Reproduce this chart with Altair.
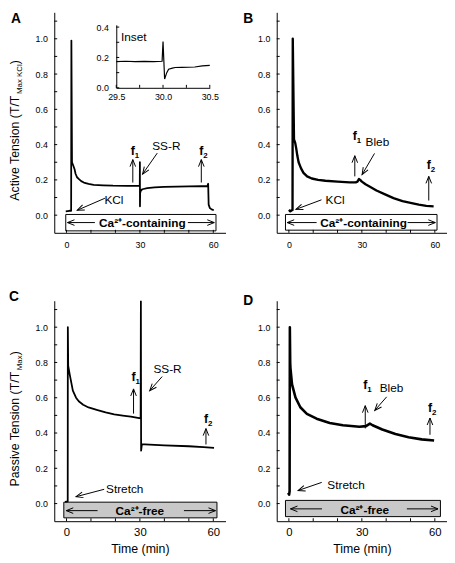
import math
import altair as alt
import pandas as pd

FONT = "Liberation Sans"

# ---------------- traces (time in min, normalised tension) ----------------
A_T = [-0.3, 1.2, 1.9, 2.0, 2.25, 2.8, 3.3, 3.7, 4.3, 5.1, 6.0, 7.1, 9.0, 11.1, 15.0, 19.0, 25.0, 29.95, 30.0, 30.03,
       30.1, 30.4, 31.0, 33.0, 36.0, 40.0, 45.0, 50.0, 55.0, 57.6, 57.9, 58.1, 58.6, 59.3, 60.2]
A_V = [0.022, 0.025, 0.025, 0.99, 0.30, 0.28, 0.26, 0.235, 0.215, 0.204, 0.193, 0.185, 0.177, 0.172, 0.169, 0.167, 0.166, 0.167, 0.30, 0.05,
       0.125, 0.14, 0.147, 0.153, 0.157, 0.16, 0.162, 0.163, 0.164, 0.165, 0.178, 0.06, 0.04, 0.033, 0.028]

B_T = [0.0, 0.6, 1.2, 1.5, 1.6, 2.1, 2.6, 3.0, 3.5, 4.0, 5.0, 6.0, 7.5, 9.4, 12.0, 15.0, 20.0, 25.0, 27.5, 28.2,
       28.8, 29.3, 30.0, 31.5, 33.5, 36.0, 40.0, 43.0, 46.7, 50.0, 53.4, 56.5, 59.5]
B_V = [0.03, 0.022, 0.028, 0.03, 1.0, 0.43, 0.41, 0.38, 0.335, 0.30, 0.265, 0.24, 0.22, 0.208, 0.20, 0.195, 0.19, 0.186, 0.186, 0.19,
       0.205, 0.20, 0.19, 0.175, 0.16, 0.14, 0.115, 0.097, 0.08, 0.07, 0.06, 0.053, 0.05]

C_T = [-0.6, 0.5, 0.55, 0.7, 1.35, 2.6, 3.9, 5.0, 6.8, 9.0, 12.7, 16.0, 19.5, 23.0, 26.3, 30.3, 30.4, 30.5, 30.8, 32.0,
       40.0, 50.0, 56.0, 60.3]
C_V = [0.01, 0.012, 1.0, 0.78, 0.73, 0.64, 0.60, 0.58, 0.56, 0.545, 0.53, 0.517, 0.506, 0.499, 0.493, 0.483, 1.15, 0.30, 0.335, 0.335,
       0.33, 0.325, 0.32, 0.316]

D_T = [-0.3, 0.1, 0.3, 0.4, 0.55, 0.65, 1.3, 2.7, 4.7, 7.4, 11.4, 16.8, 22.2, 29.0, 31.7, 33.3, 34.4, 38.4, 43.8, 49.2,
       54.6, 59.7]
D_V = [0.06, 0.05, 0.07, 1.0, 0.80, 0.768, 0.676, 0.602, 0.546, 0.509, 0.481, 0.457, 0.444, 0.435, 0.439, 0.453, 0.444, 0.42, 0.394, 0.376,
       0.364, 0.357]

INSET_T = [29.5, 29.6, 29.7, 29.8, 29.9, 29.99, 30.0, 30.017, 30.04, 30.06, 30.1, 30.13, 30.2, 30.34, 30.42, 30.5]
INSET_V = [0.172, 0.175, 0.172, 0.174, 0.173, 0.175, 0.305, 0.058, 0.10, 0.123, 0.13, 0.134, 0.135, 0.137, 0.145, 0.148]

# ---------------- axis ticks ----------------
X_LABELS = [0, 30, 60]
X_TICKS = [0, 10, 20, 30, 40, 50, 60]
Y_LABELS = [0.0, 0.2, 0.4, 0.6, 0.8, 1.0]
Y_TICKS = [0.0, 0.1, 0.2, 0.3, 0.4, 0.5, 0.6, 0.7, 0.8, 0.9, 1.0, 1.1]
INSET_X_LABELS = [29.5, 30.0, 30.5]
INSET_X_TICKS = [29.5, 29.75, 30.0, 30.25, 30.5]
INSET_Y_LABELS = [0.0, 0.2, 0.4]
INSET_Y_TICKS = [0.0, 0.1, 0.2, 0.3, 0.4]

# ---------------- annotations (data coordinates) ----------------
# arrows: tail x, tail y, tip x, tip y
A_ARROWS = [(27.1, 0.185, 27.1, 0.315), (55.1, 0.185, 55.1, 0.315), (37.1, 0.352, 31.1, 0.233),
            (15.7, 0.096, 4.4, 0.028), (11.6, -0.042, 0.4, -0.042), (49.6, -0.042, 60.4, -0.042)]
B_ARROWS = [(27.1, 0.22, 27.1, 0.337), (57.5, 0.083, 57.5, 0.22), (35.2, 0.35, 30.1, 0.23),
            (13.4, 0.087, 2.9, 0.033), (11.4, -0.042, -0.7, -0.042), (48.8, -0.042, 60.2, -0.042)]
C_ARROWS = [(27.4, 0.51, 27.4, 0.65), (57.0, 0.335, 57.0, 0.425), (39.1, 0.72, 34.0, 0.64),
            (15.4, 0.081, 3.9, 0.039), (12.7, -0.04, -0.1, -0.04), (48.0, -0.04, 60.9, -0.04)]
D_ARROWS = [(31.4, 0.426, 31.4, 0.555), (58.0, 0.39, 58.0, 0.485), (40.2, 0.605, 35.3, 0.528),
            (13.5, 0.12, 3.8, 0.074), (13.6, -0.03, 0.65, -0.03), (48.5, -0.03, 61.3, -0.03)]
# plain labels: text, x, baseline y
A_LABELS = [("SS-R", 40.8, 0.37), ("KCl", 19.4, 0.065)]
B_LABELS = [("Bleb", 36.4, 0.39), ("KCl", 19.0, 0.065)]
C_LABELS = [("SS-R", 41.3, 0.742), ("Stretch", 23.8, 0.058)]
D_LABELS = [("Bleb", 42.2, 0.635), ("Stretch", 23.5, 0.083)]
# f markers: subscript, x, baseline y
A_F = [("1", 27.1, 0.343), ("2", 55.1, 0.343)]
B_F = [("1", 27.1, 0.426), ("2", 57.5, 0.26)]
C_F = [("1", 27.4, 0.695), ("2", 57.0, 0.455)]
D_F = [("1", 31.4, 0.648), ("2", 58.0, 0.518)]
# solution boxes: x1, x2, y1, y2
A_BOX = (-0.3, 61.1, 0.004, -0.089)
B_BOX = (-1.4, 60.9, 0.004, -0.085)
C_BOX = (-1.1, 61.5, 0.008, -0.081)
D_BOX = (-1.4, 62.3, 0.018, -0.074)
A_BOX_TEXT = ("Ca\u00b2\u207a-containing", 31.0, -0.068)
B_BOX_TEXT = ("Ca\u00b2\u207a-containing", 30.7, -0.066)
C_BOX_TEXT = ("Ca\u00b2\u207a-free", 30.0, -0.066)
D_BOX_TEXT = ("Ca\u00b2\u207a-free", 31.2, -0.061)
INSET_LABEL = ("Inset", 29.55, 0.31)

# ---------------- layout ----------------
XDOM = [-5, 65]
YDOM = [-0.1, 1.15]
W_LEFT, W_RIGHT, H = 174, 173, 224
SY = H / (YDOM[1] - YDOM[0])
ARROW_PATH = "M-0.6,1.5L0,0L0.6,1.5"
DUMMY = pd.DataFrame({"k": [0]})

CHAR_W = {" ": .278, "(": .333, ")": .333, "/": .278, "A": .667, "C": .722, "K": .667, "M": .833,
          "P": .667, "T": .611, "a": .556, "c": .5, "e": .556, "i": .222, "l": .222, "n": .556,
          "o": .556, "s": .5, "t": .278, "v": .5, "x": .5}


def text_w(s, size):
    return sum(CHAR_W.get(ch, .556) for ch in s) * size


def angle_of(x1, y1, x2, y2, sx, sy):
    dx = (x2 - x1) * sx
    dy = -(y2 - y1) * sy
    return math.degrees(math.atan2(dx, -dy)) % 360


def text_layer(s, fs, x, y, weight="normal", angle=0, align="left"):
    kw = dict(text=s, font=FONT, fontSize=fs, fontWeight=weight, align=align,
              baseline="alphabetic", color="black")
    if angle:
        kw["angle"] = angle
    return alt.Chart(DUMMY).mark_text(**kw).encode(x=alt.value(x), y=alt.value(y))


def ytitle_layers(main, sub, center):
    w1, w2, w3 = text_w(main, 12.5), text_w(sub, 8), text_w(")", 12.5)
    y0 = center + (w1 + w2 + w3) / 2
    return [text_layer(main, 12.5, -36, y0, angle=270),
            text_layer(sub, 8, -32.5, y0 - w1, angle=270),
            text_layer(")", 12.5, -36, y0 - w1 - w2, angle=270)]


def panel(t, v, sw, arrows, labels, fs, box, boxfill, boxtext, letter, letter_xy,
          title_parts, xtitle, xlsize, xlpad, width):
    sx = width / (XDOM[1] - XDOM[0])
    xsc = alt.Scale(domain=XDOM, nice=False, zero=False)
    ysc = alt.Scale(domain=YDOM, nice=False, zero=False)
    xax = alt.Axis(values=X_LABELS, ticks=False, grid=False, domainColor="black", domainWidth=1,
                   labelFont=FONT, labelFontSize=xlsize, labelColor="black", labelPadding=xlpad,
                   labelFlush=False, title=xtitle, titleFont=FONT, titleFontSize=12.5,
                   titleFontWeight="normal", titleColor="black", titlePadding=4)
    yax = alt.Axis(values=Y_LABELS, format=".1f", ticks=False, grid=False, domainColor="black",
                   domainWidth=1, labelFont=FONT, labelFontSize=9, labelColor="black",
                   labelPadding=7, labelFlush=False, title=None)

    def ex(f):
        return alt.X(f, type="quantitative", scale=xsc, axis=xax)

    def ey(f):
        return alt.Y(f, type="quantitative", scale=ysc, axis=yax)

    layers = []
    bdf = pd.DataFrame({"x1": [box[0]], "x2": [box[1]], "y1": [box[2]], "y2": [box[3]]})
    layers.append(alt.Chart(bdf).mark_rect(fill=boxfill, stroke="black", strokeWidth=1).encode(
        x=ex("x1"), x2=alt.X2("x2"), y=ey("y1"), y2=alt.Y2("y2")))

    df = pd.DataFrame({"t": t, "v": v, "i": list(range(len(t)))})
    layers.append(alt.Chart(df).mark_line(color="black", strokeWidth=sw, clip=True,
                                          strokeJoin="round").encode(
        x=ex("t"), y=ey("v"), order=alt.Order("i:Q")))

    ytk = pd.DataFrame({"ya": Y_TICKS, "xa": [XDOM[0]] * len(Y_TICKS),
                        "xb": [XDOM[0] + 3 / sx] * len(Y_TICKS)})
    layers.append(alt.Chart(ytk).mark_rule(color="black", strokeWidth=1).encode(
        x=ex("xa"), x2=alt.X2("xb"), y=ey("ya")))
    xtk = pd.DataFrame({"xa": X_TICKS, "ya": [YDOM[0]] * len(X_TICKS),
                        "yb": [YDOM[0] + 3 / SY] * len(X_TICKS)})
    layers.append(alt.Chart(xtk).mark_rule(color="black", strokeWidth=1).encode(
        x=ex("xa"), y=ey("ya"), y2=alt.Y2("yb")))

    adf = pd.DataFrame(arrows, columns=["x1", "y1", "x2", "y2"])
    adf["ang"] = [angle_of(a, b, c, d, sx, SY) for a, b, c, d in arrows]
    layers.append(alt.Chart(adf).mark_rule(color="black", strokeWidth=1).encode(
        x=ex("x1"), y=ey("y1"), x2=alt.X2("x2"), y2=alt.Y2("y2")))
    layers.append(alt.Chart(adf).mark_point(shape=ARROW_PATH, filled=False, color="black",
                                            strokeWidth=1, size=90, opacity=1).encode(
        x=ex("x2"), y=ey("y2"), angle=alt.Angle("ang:Q", scale=None)))

    ldf = pd.DataFrame(labels, columns=["s", "x", "y"])
    layers.append(alt.Chart(ldf).mark_text(font=FONT, fontSize=12, align="center",
                                           baseline="alphabetic", color="black").encode(
        x=ex("x"), y=ey("y"), text=alt.Text("s:N")))

    fdf = pd.DataFrame(fs, columns=["s", "x", "y"])
    layers.append(alt.Chart(fdf).mark_text(text="f", font=FONT, fontSize=12.5, fontWeight="bold",
                                           align="center", baseline="alphabetic",
                                           color="black").encode(x=ex("x"), y=ey("y")))
    layers.append(alt.Chart(fdf).mark_text(font=FONT, fontSize=8, fontWeight="bold", align="left",
                                           baseline="alphabetic", dx=2, dy=3,
                                           color="black").encode(
        x=ex("x"), y=ey("y"), text=alt.Text("s:N")))

    tdf = pd.DataFrame([boxtext], columns=["s", "x", "y"])
    layers.append(alt.Chart(tdf).mark_text(font=FONT, fontSize=12, fontWeight="bold",
                                           align="center", baseline="alphabetic",
                                           color="black").encode(
        x=ex("x"), y=ey("y"), text=alt.Text("s:N")))

    layers.append(text_layer(letter, 14, letter_xy[0], letter_xy[1], weight="bold"))
    if title_parts:
        layers.extend(ytitle_layers(*title_parts))
    return alt.layer(*layers)


def inset():
    ixs = alt.Scale(domain=[29.5, 30.5], range=[63, 158], nice=False, zero=False)
    iys = alt.Scale(domain=[0, 0.415], range=[76.7, 12.7], nice=False, zero=False)
    ixax = alt.Axis(orient="bottom", offset=76.7 - H, values=INSET_X_LABELS, format=".1f",
                    ticks=False, grid=False, domainColor="black", labelFont=FONT, labelFontSize=9,
                    labelColor="black", labelPadding=5, labelFlush=False, title=None)
    iyax = alt.Axis(orient="left", offset=-63, values=INSET_Y_LABELS, format=".1f", ticks=False,
                    grid=False, domainColor="black", labelFont=FONT, labelFontSize=9,
                    labelColor="black", labelPadding=8, labelFlush=False, title=None)

    def ex(f):
        return alt.X(f, type="quantitative", scale=ixs, axis=ixax)

    def ey(f):
        return alt.Y(f, type="quantitative", scale=iys, axis=iyax)

    df = pd.DataFrame({"t": INSET_T, "v": INSET_V, "i": list(range(len(INSET_T)))})
    line = alt.Chart(df).mark_line(color="black", strokeWidth=1.2).encode(
        x=ex("t"), y=ey("v"), order=alt.Order("i:Q"))
    ytk = pd.DataFrame({"ya": INSET_Y_TICKS, "xa": [29.5] * len(INSET_Y_TICKS),
                        "xb": [29.5 + 3 / 95] * len(INSET_Y_TICKS)})
    yt = alt.Chart(ytk).mark_rule(color="black", strokeWidth=1).encode(
        x=ex("xa"), x2=alt.X2("xb"), y=ey("ya"))
    xtk = pd.DataFrame({"xa": INSET_X_TICKS, "ya": [0.0] * len(INSET_X_TICKS),
                        "yb": [3 / 154.0] * len(INSET_X_TICKS)})
    xt = alt.Chart(xtk).mark_rule(color="black", strokeWidth=1).encode(
        x=ex("xa"), y=ey("ya"), y2=alt.Y2("yb"))
    lab = pd.DataFrame([INSET_LABEL], columns=["s", "x", "y"])
    txt = alt.Chart(lab).mark_text(font=FONT, fontSize=12, align="left", baseline="alphabetic",
                                   color="black").encode(x=ex("x"), y=ey("y"),
                                                         text=alt.Text("s:N"))
    return alt.layer(line, yt, xt, txt)


pA_main = panel(A_T, A_V, 1.8, A_ARROWS, A_LABELS, A_F, A_BOX, "white", A_BOX_TEXT, "A", (-44, 11),
                ("Active Tension (T/T", "Max KCl", 120), None, 9, 8, W_LEFT)
pA = alt.layer(pA_main, inset()).resolve_scale(x="independent", y="independent").properties(
    width=W_LEFT, height=H)
pB = panel(B_T, B_V, 2.4, B_ARROWS, B_LABELS, B_F, B_BOX, "white", B_BOX_TEXT, "B", (-34, 11),
           None, None, 9, 8, W_RIGHT).properties(width=W_RIGHT, height=H)
pC = panel(C_T, C_V, 1.8, C_ARROWS, C_LABELS, C_F, C_BOX, "#c8c8c8", C_BOX_TEXT, "C", (-46, 0),
           ("Passive Tension (T/T", "Max", 120), "Time (min)", 11.5, 6, W_LEFT).properties(
    width=W_LEFT, height=H)
pD = panel(D_T, D_V, 2.6, D_ARROWS, D_LABELS, D_F, D_BOX, "#c8c8c8", D_BOX_TEXT, "D", (-34, 4),
           None, "Time (min)", 11.5, 6, W_RIGHT).properties(width=W_RIGHT, height=H)

chart = alt.concat(pA, pB, pC, pD, columns=2, spacing={"row": 69, "column": 52},
                   bounds="flush").properties(padding=0).configure_view(stroke=None)

chart.save("out.html", embed_options={"renderer": "svg", "actions": False})
